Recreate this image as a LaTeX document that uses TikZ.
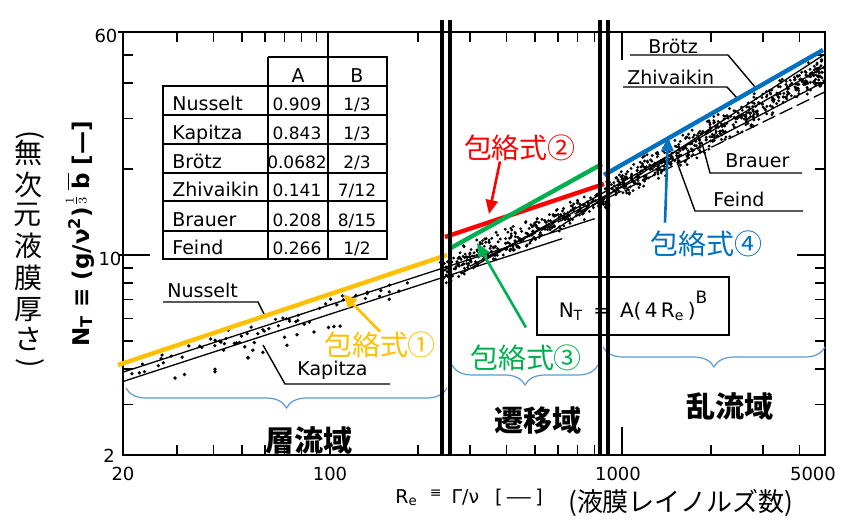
\documentclass[tikz,border=0pt]{standalone}
\usepackage{fontspec}
\setmainfont{DejaVu Sans}
\newfontfamily\jp{Noto Sans CJK JP}
\usetikzlibrary{decorations.pathreplacing,arrows.meta}
\definecolor{corange}{HTML}{FFC000}
\definecolor{cred}{HTML}{FF0000}
\definecolor{cgreen}{HTML}{00B050}
\definecolor{cblue}{HTML}{0070C0}
\definecolor{cbrace}{HTML}{5B9BD5}
\newcommand{\upc}[1]{\rotatebox[origin=c]{90}{\strut#1}}
\begin{document}
\begin{tikzpicture}[x=0.5pt,y=-0.5pt,
  declare function={CY(\a,\b,\r)=255-286*(log10(\a)+\b*(0.60206+log10(\r))-1);
                    RX(\r)=330+293*(log10(\r)-2);},
  plotframe/.style={line width=0.9pt},
  tickline/.style={line width=0.8pt},
  dline/.style={line width=2pt},
  corr/.style={line width=0.65pt},
  env/.style={line width=2.2pt},
  arr/.style={line width=1.3pt,-{Triangle[length=7pt,width=6pt]}},
  num/.style={font=\fontsize{9}{10}\selectfont, inner sep=0pt, anchor=base},
  lbl/.style={font=\fontsize{9.5}{11}\selectfont, inner sep=0pt, anchor=base west},
  tabname/.style={font=\fontsize{9.5}{11}\selectfont, inner sep=0pt, anchor=base west},
  tabnum/.style={font=\fontsize{8.5}{10}\selectfont, inner sep=0pt, anchor=base},
  tabline/.style={line width=0.9pt},
  envlbl/.style={font=\jp\fontsize{14}{16}\selectfont, inner sep=0pt},
  region/.style={font=\jp\bfseries\fontsize{14.5}{16}\selectfont, inner sep=0pt},
  bracesty/.style={cbrace, line width=0.6pt, decorate, decoration={brace, amplitude=10pt}},
  leader/.style={line width=0.7pt},
]
\useasboundingbox (0,0) rectangle (843,526);
\fill[white] (0,0) rectangle (843,526);

% ---------- data and correlations ----------
\begin{scope}
\clip (123,32) rectangle (825,455);
\pgfmathsetseed{2024}
\foreach \i in {1,...,60}{
  \pgfmathsetmacro\ta{rnd}
  \pgfmathsetmacro\xx{127+316*\ta}
  \pgfmathsetmacro\yy{372-104*\ta+5*(rand+rand)}
  \fill (\xx,\yy) circle (1.8);
}
\foreach \i in {1,...,22}{
  \pgfmathsetmacro\ta{rnd}
  \pgfmathsetmacro\xx{140+300*\ta}
  \pgfmathsetmacro\yy{378-104*\ta+22*rnd}
  \fill (\xx,\yy) circle (1.9);
}
\foreach \i in {1,...,320}{
  \pgfmathsetmacro\ta{rnd}
  \pgfmathsetmacro\xx{443+167*\ta}
  \pgfmathsetmacro\yy{270-75*\ta+8*(rand+rand)}
  \fill (\xx,\yy) circle (1.6);
}
\foreach \i in {1,...,520}{
  \pgfmathsetmacro\ta{rnd}
  \pgfmathsetmacro\xx{605+220*\ta}
  \pgfmathsetmacro\yy{194-124*\ta+9*(rand+rand)}
  \fill (\xx,\yy) circle (1.6);
}
% Nusselt, Kapitza
\draw[corr] ({RX(19)},{CY(0.909,1/3,19)}) -- ({RX(800)},{CY(0.909,1/3,800)});
\draw[corr] ({RX(19)},{CY(0.843,1/3,19)}) -- ({RX(620)},{CY(0.843,1/3,620)});
% Broetz, Zhivaikin, Brauer, Feind
\draw[corr] ({RX(560)},{CY(0.0682,2/3,560)}) -- ({RX(5200)},{CY(0.0682,2/3,5200)});
\draw[corr] ({RX(280)},{CY(0.141,7/12,280)}) -- ({RX(5200)},{CY(0.141,7/12,5200)});
\draw[corr] ({RX(300)},{CY(0.208,8/15,300)}) -- ({RX(5200)},{CY(0.208,8/15,5200)});
\draw[corr,dash pattern=on 7pt off 2.5pt] ({RX(350)},{CY(0.266,1/2,350)}) -- ({RX(5200)},{CY(0.266,1/2,5200)});
\end{scope}

% ---------- frame and ticks ----------
\draw[plotframe] (123,32) rectangle (825,455);
\foreach \r in {30,40,50,60,70,80,90,200,300,400,500,600,700,800,900,2000,3000,4000}{
  \pgfmathsetmacro\tx{330+293*(log10(\r)-2)}
  \draw[tickline] (\tx,32) -- (\tx,42);
  \draw[tickline] (\tx,455) -- (\tx,445);
}
\foreach \n in {3,4,5,6,7,8,9,20,30,40,50}{
  \pgfmathsetmacro\ty{255-286*(log10(\n)-1)}
  \draw[tickline] (123,\ty) -- (133,\ty);
  \draw[tickline] (825,\ty) -- (815,\ty);
}
\draw[tickline] (118,255) -- (150,255);
\draw[tickline] (797,255) -- (825,255);
\draw[tickline] (118,32) -- (123,32);
\draw[tickline] (328,32) -- (328,57);
\draw[tickline] (622,32) -- (622,60);
\draw[tickline] (622,455) -- (622,427);
\draw[tickline] (330,455) -- (330,445);

% tick labels
\node[num] (t60) at (106,42) {60};
\node[num] (t10) at (110,265) {10};
\node[num] (t2) at (109,462) {2};
\node[num] (b20) at (123,480) {20};
\node[num] (b100) at (330,480) {100};
\node[num] (b1000) at (618,480) {1000};
\node[num] (b5000) at (813,480) {5000};

% ---------- table ----------
\draw[tabline] (268,57) -- (387,57) -- (387,259) -- (163,259) -- (163,86) -- (387,86);
\draw[tabline] (268,57) -- (268,259);
\draw[tabline] (328,57) -- (328,259);
\foreach \yy in {115,144,173,201,231} \draw[tabline] (163,\yy) -- (387,\yy);
\node[tabname,anchor=base] (hA) at (298,82) {A};
\node[tabname,anchor=base] (hB) at (357,82) {B};
\node[tabname] (n1) at (172,110) {Nusselt};
\node[tabnum] (a1) at (297,110) {0.909};
\node[tabnum] (b1) at (357,110) {1/3};
\node[tabname] (n2) at (172,139) {Kapitza};
\node[tabnum] (a2) at (297,139) {0.843};
\node[tabnum] (b2) at (357,139) {1/3};
\node[tabname] (n3) at (172,168) {Brötz};
\node[tabnum] (a3) at (297,168) {0.0682};
\node[tabnum] (b3) at (357,168) {2/3};
\node[tabname] (n4) at (172,196) {Zhivaikin};
\node[tabnum] (a4) at (297,196) {0.141};
\node[tabnum] (b4) at (357,196) {7/12};
\node[tabname] (n5) at (172,226) {Brauer};
\node[tabnum] (a5) at (297,226) {0.208};
\node[tabnum] (b5) at (357,226) {8/15};
\node[tabname] (n6) at (172,254) {Feind};
\node[tabnum] (a6) at (297,254) {0.266};
\node[tabnum] (b6) at (357,254) {1/2};

% ---------- curve labels with leaders ----------
\node[lbl] (lNu) at (167,297) {Nusselt};
\draw[leader] (163,302) coordinate (nuA) -- (258,302) -- (266,318) coordinate (nuB);
\node[lbl] (lKa) at (297,375) {Kapitza};
\draw[leader] (390,384) coordinate (kaA) -- (285,384) -- (263,345) coordinate (kaB);
\node[lbl] (lBr) at (648,53) {Brötz};
\draw[leader] (630,55) coordinate (brA) -- (728,55) -- (755,87) coordinate (brB);
\node[lbl] (lZh) at (627,84) {Zhivaikin};
\draw[leader] (623,87) coordinate (zhA) -- (727,87) -- (737,98) coordinate (zhB);
\node[lbl] (lBa) at (725,167) {Brauer};
\draw[leader] (802,173) coordinate (baA) -- (710,173) -- (702,143) coordinate (baB);
\node[lbl] (lFe) at (713,206) {Feind};
\draw[leader] (803,211) coordinate (feA) -- (695,211) -- (677,162) coordinate (feB);

% formula box
\node[draw, line width=0.8pt, minimum width=96pt, minimum height=29pt, inner sep=0pt,
      font=\fontsize{10}{12}\selectfont] (fbox) at (633,306)
  {N\textsubscript{T}\enspace=\enspace A(\,4\,R\textsubscript{e}\,)\raisebox{7pt}{\fontsize{8.5}{9}\selectfont B}};

% ---------- axis titles ----------
\node[rotate=90, inner sep=0pt, font=\bfseries\fontsize{11.5}{13}\selectfont] (ylab) at (80,234)
  {N\textsubscript{T} ≡ (g/ν\textsuperscript{2})$^{\frac{1}{3}}$\,$\overline{\mbox{b}}$ [—]};
\node[rotate=-90, inner sep=0pt, font=\jp\fontsize{14}{14}\selectfont] (jylab) at (29,249)
  {(\upc{無}\upc{次}\upc{元}\upc{液}\upc{膜}\upc{厚}\upc{さ})};
\node[anchor=base west, inner sep=0pt, font=\fontsize{9.5}{11}\selectfont] (xlab) at (395,503)
  {R\textsubscript{e}\hspace{6pt}\raisebox{0.3em}{\fontsize{7}{7}\selectfont ≡}\hspace{5pt}Γ/ν\hspace{8pt}[\,\scalebox{1.4}[1]{—}\,]};
\node[inner sep=0pt, font=\jp\fontsize{13}{15}\selectfont] (jxlab) at (681,503) {(液膜レイノルズ数)};

% ---------- braces ----------
\draw[bracesty] (447,388) -- (126,388);
\draw[bracesty] (598,365) -- (452,365);
\draw[bracesty] (825,347) -- (603,347);

% ---------- region names ----------
\node[region] (r1) at (309,440) {層流域};
\node[region] (r2) at (538,421) {遷移域};
\node[region] (r3) at (730,406) {乱流域};

% ---------- envelope lines ----------
\draw[env,corange] (118,365) -- (447,255);
\draw[env,cred] (445,237) -- (604,184);
\draw[env,cgreen] (449,249) -- (602,164);
\draw[env,cblue] (604,175) -- (823,50);

% ---------- double boundary lines ----------
\draw[dline] (442,20) -- (442,455);
\draw[dline] (450,20) -- (450,455);
\draw[dline] (600,20) -- (600,455);
\draw[dline] (608,20) -- (608,455);

% ---------- envelope labels and arrows ----------
\node[envlbl, text=corange] (e1) at (380,345) {包絡式①};
\node[envlbl, text=cred] (e2) at (520,148) {包絡式②};
\node[envlbl, text=cgreen] (e3) at (526,358) {包絡式③};
\node[envlbl, text=cblue] (e4) at (706,244) {包絡式④};
\coordinate (h1) at (343,294);
\coordinate (h2) at (489,214);
\coordinate (h3) at (477,243);
\coordinate (h4) at (668,137);
\draw[arr,corange] (e1.north) -- (h1);
\draw[arr,cred] ([xshift=-10pt]e2.south) -- (h2);
\draw[arr,cgreen] ([yshift=8.5pt]e3.north) -- (h3);
\draw[arr,cblue] ([xshift=-20.5pt,yshift=4pt]e4.north) -- (h4);
\end{tikzpicture}
\end{document}
